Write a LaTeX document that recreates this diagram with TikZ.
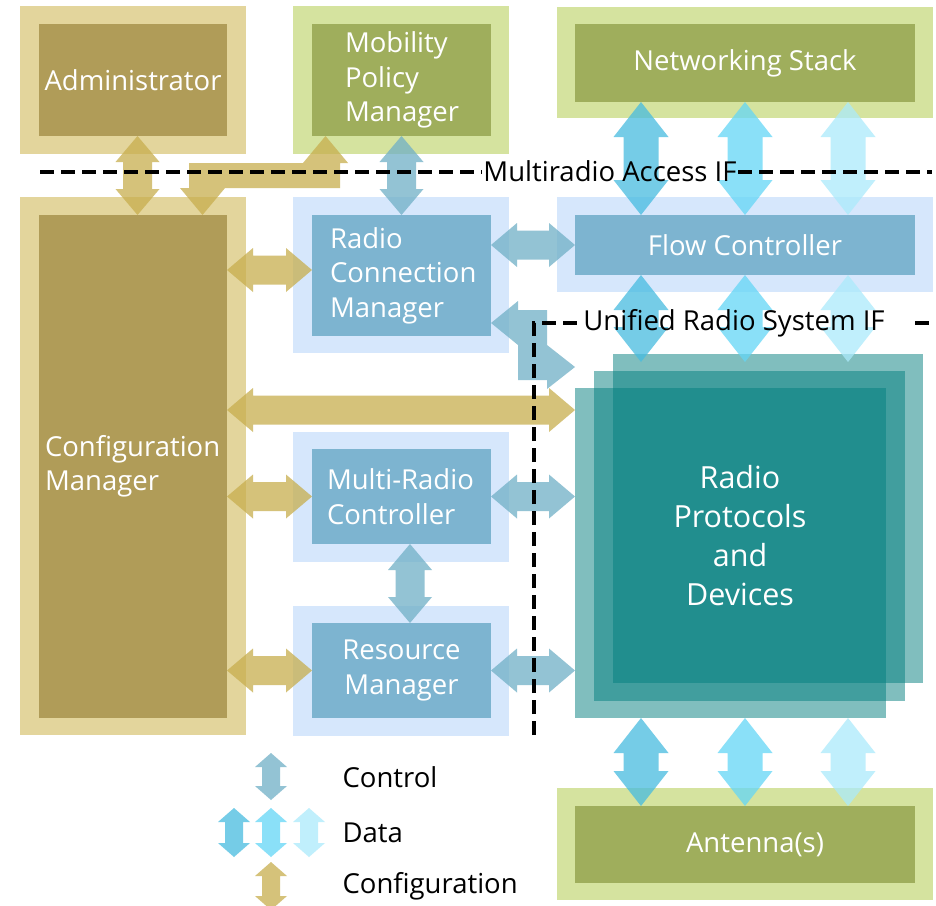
\documentclass[tikz,border=0pt]{standalone}
\usepackage{fontspec}
\setmainfont{Open Sans}
\usetikzlibrary{calc}
\definecolor{tanO}{HTML}{E3D59C}
\definecolor{tanI}{HTML}{B09C58}
\definecolor{grnO}{HTML}{D5E39F}
\definecolor{grnI}{HTML}{9FAE5C}
\definecolor{bluO}{HTML}{D6E7FC}
\definecolor{bluI}{HTML}{7DB4D0}
\definecolor{tealc}{HTML}{037F7F}
\definecolor{cfgc}{HTML}{C7AE4E}
\definecolor{ctlc}{HTML}{70AFC6}
\definecolor{dataA}{HTML}{47BCE0}
\definecolor{dataB}{HTML}{64D6F6}
\definecolor{dataC}{HTML}{ABEAFB}
\tikzset{
  lbl/.style={text=white, font=\fontsize{27.5}{34.5}\selectfont},
  big/.style={text=white, font=\fontsize{30.5}{39}\selectfont},
  blk/.style={text=black, font=\fontsize{27.5}{34.5}\selectfont},
  cfgarr/.style={fill=cfgc, fill opacity=0.75},
  ctlarr/.style={fill=ctlc, fill opacity=0.75},
  darrA/.style={fill=dataA, fill opacity=0.75},
  darrB/.style={fill=dataB, fill opacity=0.75},
  darrC/.style={fill=dataC, fill opacity=0.75},
  layer/.style={fill=tealc, fill opacity=0.5},
  ifline/.style={draw=black, line width=4pt, dash pattern=on 14pt off 7pt}
}
% box: [style]{name}{x1}{y1}{x2}{y2}{text}
\newcommand\bx[7][]{\node[inner sep=0pt, outer sep=0pt, minimum width={(#5-#3)*1pt}, minimum height={(#6-#4)*1pt}, #1] (#2) at ({(#3+#5)/2},{(#4+#6)/2}) {#7};}
% block double arrow: {style}{from}{to}{head length}{head half width}{shaft half width}
\newcommand\blockarr[6]{\fill[#1] let \p1=(#2), \p2=(#3), \n1={atan2(\y2-\y1,\x2-\x1)} in
 (\p1) -- ($(\p1)+(\n1:#4)+(\n1+90:#5)$) -- ($(\p1)+(\n1:#4)+(\n1+90:#6)$)
 -- ($(\p2)+(\n1+180:#4)+(\n1+90:#6)$) -- ($(\p2)+(\n1+180:#4)+(\n1+90:#5)$) -- (\p2)
 -- ($(\p2)+(\n1+180:#4)+(\n1-90:#5)$) -- ($(\p2)+(\n1+180:#4)+(\n1-90:#6)$)
 -- ($(\p1)+(\n1:#4)+(\n1-90:#6)$) -- ($(\p1)+(\n1:#4)+(\n1-90:#5)$) -- cycle;}
\newcommand\carr[3]{\blockarr{#1}{#2}{#3}{26pt}{22pt}{14.5pt}}
\newcommand\darr[3]{\blockarr{#1}{#2}{#3}{35pt}{27.5pt}{17.5pt}}
\newcommand\larr[3]{\blockarr{#1}{#2}{#3}{14pt}{16pt}{9pt}}

\begin{document}
\begin{tikzpicture}[x=1pt, y=-1pt]
\useasboundingbox (0,0) rectangle (936,905);
\clip (0,0) rectangle (936,905);
\fill[white] (0,0) rectangle (936,905);

% outer boxes
\bx[fill=tanO]{admO}{20}{6}{246}{154}{}
\bx[fill=grnO]{mpmO}{293}{6}{509}{154}{}
\bx[fill=grnO]{nsO}{557}{7}{933}{118}{}
\bx[fill=tanO]{cfgO}{20}{197}{246}{735}{}
\bx[fill=bluO]{rcmO}{293}{197}{509}{353}{}
\bx[fill=bluO]{fcO}{557}{197}{933}{292}{}
\bx[fill=bluO]{mrcO}{293}{432}{509}{562}{}
\bx[fill=bluO]{rmO}{293}{606}{509}{736}{}
\bx[fill=grnO]{antO}{557}{788}{933}{900}{}

% inner boxes
\bx[fill=tanI, lbl]{adm}{39}{24}{227}{136}{Administrator}
\bx[fill=grnI, lbl, align=left, inner xsep=33pt, text width=113pt]{mpm}{312}{24}{491}{136}{Mobility\\Policy\\Manager}
\bx[fill=grnI, lbl]{ns}{575}{24}{915}{102}{Networking Stack}
\bx[fill=tanI, lbl, align=left, inner xsep=6pt, text width=176pt]{cfg}{39}{215}{227}{718}{Configuration\\Manager}
\bx[fill=bluI, lbl, align=left, inner xsep=18pt, text width=143pt]{rcm}{312}{215}{491}{336}{Radio\\Connection\\Manager}
\bx[fill=bluI, lbl]{fc}{575}{215}{915}{275}{Flow Controller}
\bx[fill=bluI, lbl, align=left, inner xsep=15pt, text width=149pt]{mrc}{312}{449}{491}{544}{Multi-Radio\\Controller}
\bx[fill=bluI, lbl, align=center]{rm}{312}{623}{491}{718}{Resource\\Manager}
\bx[fill=grnI]{ant}{575}{806}{915}{883}{}
\node[lbl] (antlbl) at (755,845) {Antenna(s)};

% radio protocols layers
\bx[layer]{rpb}{613}{354}{923}{683}{}
\bx[layer]{rpm}{594}{371}{905}{701}{}
\bx[layer]{rpf}{575}{388}{886}{718}{}
\node[big, align=center] (rplbl) at (740,536) {Radio\\Protocols\\and\\Devices};

% configuration arrows
\carr{cfgarr}{[xshift=4.5pt]adm.south}{[xshift=4.5pt]cfg.north}
\coordinate (lcA) at (202.5,215);
\coordinate (lcB) at (325.5,136);
\fill[cfgarr] (lcA) -- (180,188) -- (189,188) -- (189,163) -- (303,163) -- (lcB) -- (348,163) -- (340,163) -- (340,188) -- (225,188) -- cycle;
\carr{cfgarr}{cfg.east |- 0,270}{rcm.west |- 0,270}
\carr{cfgarr}{cfg.east |- 0,410}{rpf.west |- 0,410}
\carr{cfgarr}{cfg.east |- mrc.west}{mrc.west}
\carr{cfgarr}{cfg.east |- rm.west}{rm.west}

% control arrows
\carr{ctlarr}{mpm.south}{rcm.north}
\carr{ctlarr}{rcm.east |- fc.west}{fc.west}
\carr{ctlarr}{mrc.east}{rpf.west |- mrc.east}
\carr{ctlarr}{rm.east}{rpf.west |- rm.east}
\carr{ctlarr}{[xshift=8.5pt]mrc.south}{[xshift=8.5pt]rm.north}
\coordinate (lrA) at (491,323);
\coordinate (lrB) at (575,367);
\fill[ctlarr] (lrA) -- (518,301) -- (518,310) -- (547,310) -- (547,345) -- (lrB) -- (547,389) -- (547,380) -- (518,380) -- (518,345) -- cycle;

% data arrows
\darr{darrA}{[xshift=-104pt]ns.south}{[xshift=-104pt]fc.north}
\darr{darrB}{ns.south}{fc.north}
\darr{darrC}{[xshift=103pt]ns.south}{[xshift=103pt]fc.north}
\darr{darrA}{[xshift=-104pt]fc.south}{[xshift=-104pt, yshift=-8pt]fc.south |- rpb.north}
\darr{darrB}{fc.south}{[yshift=-8pt]fc.south |- rpb.north}
\darr{darrC}{[xshift=103pt]fc.south}{[xshift=103pt, yshift=-8pt]fc.south |- rpb.north}
\darr{darrA}{[xshift=-104pt]ant.north |- rpf.south}{[xshift=-104pt]ant.north}
\darr{darrB}{ant.north |- rpf.south}{ant.north}
\darr{darrC}{[xshift=103pt]ant.north |- rpf.south}{[xshift=103pt]ant.north}

% interface lines
\draw[ifline] (40,172) -- (482,172);
\node[blk, anchor=base] (maif) at (610,181) {Multiradio Access IF};
\draw[ifline] (738,172) -- (932,172);
\draw[ifline] (534,735) -- (534,323) -- (580,323);
\node[blk, anchor=base] (urif) at (734,330) {Unified Radio System IF};
\draw[ifline] (915,323) -- (936,323);

% legend
\coordinate (lg1a) at (271,753); \coordinate (lg1b) at (271,800);
\larr{ctlarr}{lg1a}{lg1b}
\coordinate (lg2a) at (234,808); \coordinate (lg2b) at (234,857);
\coordinate (lg3a) at (271,808); \coordinate (lg3b) at (271,857);
\coordinate (lg4a) at (309,808); \coordinate (lg4b) at (309,857);
\larr{darrA}{lg2a}{lg2b}
\larr{darrB}{lg3a}{lg3b}
\larr{darrC}{lg4a}{lg4b}
\coordinate (lg5a) at (271,862); \coordinate (lg5b) at (271,910);
\larr{cfgarr}{lg5a}{lg5b}
\node[blk, anchor=base west] (lgc) at (339,787) {Control};
\node[blk, anchor=base west] (lgd) at (339,842) {Data};
\node[blk, anchor=base west] (lgf) at (339,893) {Configuration};
\end{tikzpicture}
\end{document}
